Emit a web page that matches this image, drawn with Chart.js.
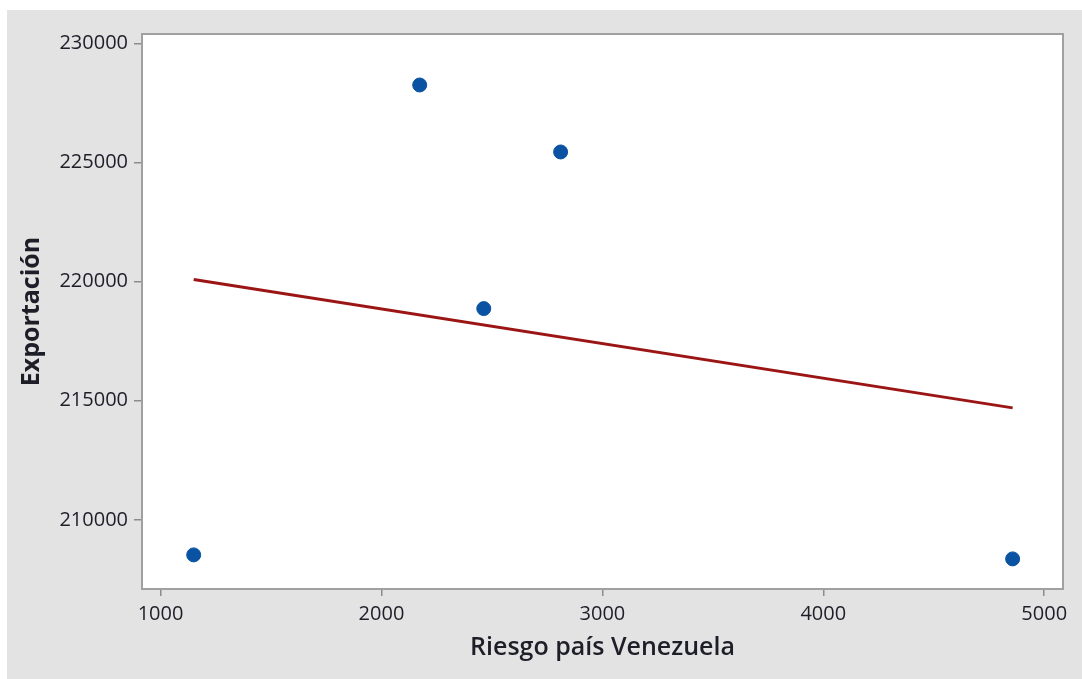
<!DOCTYPE html>
<html>
<head>
<meta charset="utf-8">
<script src="https://cdn.jsdelivr.net/npm/chart.js@4"></script>
<style>
  html, body { margin: 0; padding: 0; background: #fff; }
  #wrap { width: 1082px; height: 679px; position: relative; }
</style>
</head>
<body>
<div id="wrap"><canvas id="fitChart"></canvas></div>
<script>
const riesgo = [1150, 2173, 2463, 2811, 4857];
const exportacion = [208532, 228251, 218867, 225440, 208364];
const ajusteX = [1150, 4857];
const ajusteY = [220084, 214700];
const xTicks = [1000, 2000, 3000, 4000, 5000];
const yTicks = [210000, 215000, 220000, 225000, 230000];

const panelPlugin = {
    id: 'panel',
    beforeDraw(chart) {
        const c = chart.ctx;
        const a = chart.chartArea;
        c.save();
        c.fillStyle = '#ffffff';
        c.fillRect(0, 0, chart.width, chart.height);
        c.fillStyle = '#e3e3e3';
        c.fillRect(7, 10, chart.width - 7, chart.height - 10);
        c.fillStyle = '#ffffff';
        c.fillRect(a.left, a.top, a.right - a.left, a.bottom - a.top);
        c.restore();
    },
    beforeDatasetsDraw(chart) {
        const c = chart.ctx;
        const a = chart.chartArea;
        c.save();
        c.strokeStyle = '#a0a0a0';
        c.lineWidth = 2;
        c.strokeRect(a.left, a.top, a.right - a.left, a.bottom - a.top);
        c.restore();
    }
};

const tickFont = { family: "'Open Sans', sans-serif", size: 20 };

new Chart(document.getElementById('fitChart').getContext('2d'), {
    type: 'scatter',
    data: {
        datasets: [{
            label: 'Exportación',
            data: riesgo.map((x, i) => ({ x: x, y: exportacion[i] })),
            backgroundColor: '#0a53a3',
            borderColor: '#0a53a3',
            pointRadius: 7,
            order: 1
        }, {
            label: 'Ajuste',
            data: ajusteX.map((x, i) => ({ x: x, y: ajusteY[i] })),
            showLine: true,
            borderColor: '#9c1515',
            borderWidth: 3,
            pointRadius: 0,
            order: 2
        }]
    },
    options: {
        responsive: true,
        maintainAspectRatio: false,
        animation: false,
        layout: { padding: { top: 34, right: 19, left: 0, bottom: 0 } },
        plugins: {
            legend: { display: false },
            tooltip: { enabled: false }
        },
        scales: {
            x: {
                type: 'linear',
                min: 916,
                max: 5085,
                afterBuildTicks: axis => { axis.ticks = xTicks.map(v => ({ value: v })); },
                afterFit: axis => { axis.height = 90; },
                border: { display: false },
                grid: { drawOnChartArea: false, drawTicks: true, tickLength: 7, color: '#8c8c8c', lineWidth: 1.5 },
                ticks: { color: '#1e1e28', font: tickFont, padding: 6, maxRotation: 0, callback: v => String(v) },
                title: {
                    display: true,
                    text: 'Riesgo país Venezuela',
                    color: '#1e1e28',
                    font: { family: "'Open Sans', sans-serif", size: 25, weight: '600' },
                    padding: { top: 0, bottom: 16 }
                }
            },
            y: {
                type: 'linear',
                min: 207100,
                max: 230390,
                afterBuildTicks: axis => { axis.ticks = yTicks.map(v => ({ value: v })); },
                afterFit: axis => { axis.width = 142; },
                border: { display: false },
                grid: { drawOnChartArea: false, drawTicks: true, tickLength: 8, color: '#8c8c8c', lineWidth: 1.5 },
                ticks: { color: '#1e1e28', font: tickFont, padding: 6, callback: v => String(v) },
                title: {
                    display: true,
                    text: 'Exportación',
                    color: '#1e1e28',
                    font: { family: "'Open Sans', sans-serif", size: 25, weight: 'bold' },
                    padding: { top: 17, bottom: 0 }
                }
            }
        }
    },
    plugins: [panelPlugin]
});
</script>
</body>
</html>
